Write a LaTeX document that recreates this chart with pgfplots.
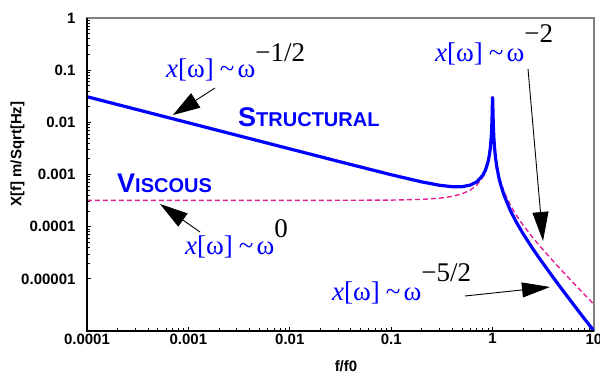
\documentclass[border=0pt]{standalone}
\usepackage{pgfplots}
\pgfplotsset{compat=1.18}
\usetikzlibrary{arrows.meta}
\usepackage{fontspec}
\setmainfont{Liberation Serif}
\newfontfamily\arial{Liberation Sans}
\definecolor{visc}{RGB}{228,30,150}
\newcommand{\ann}[2]{{\fontsize{27}{30}\selectfont{\color{blue}\textit{x}[ω]\hspace{6pt}\textasciitilde\hspace{3pt}ω}\raisebox{#1}{#2}}}
\begin{document}
\begin{tikzpicture}
\begin{axis}[
  name=ax,
  at={(87pt,44pt)}, anchor=south west,
  scale only axis, width=507pt, height=313pt,
  xmode=log, ymode=log,
  xmin=1e-4, xmax=10, ymin=1e-6, ymax=1,
  xtick={1e-4,1e-3,1e-2,1e-1,1,10},
  xticklabels={0.0001,0.001,0.01,0.1,1,10},
  ytick={1e-5,1e-4,1e-3,1e-2,1e-1,1},
  yticklabels={0.00001,0.0001,0.001,0.01,0.1,1},
  minor tick num=0,
  minor xtick={}, minor ytick={},
  xtick pos=left, ytick pos=left,
  tick align=inside,
  major tick length=4pt,
  tick style={black, line width=0.8pt},
  axis line style={gray, line width=1.2pt},
  ticklabel style={font=\arial\bfseries\fontsize{15}{17}\selectfont},
  yticklabel style={xshift=-8pt},
  xticklabel style={yshift=1pt},
  /pgf/number format/assume math mode=true,
]
\addplot[visc, line width=1.4pt, dash pattern=on 5pt off 3pt] coordinates {
(1e-4,3.2e-4) (1e-2,3.2003e-4) (0.03,3.2029e-4) (0.1,3.2323e-4) (0.2,3.3333e-4) (0.3,3.5165e-4) (0.4,3.8095e-4) (0.5,4.2667e-4) (0.6,4.9998e-4) (0.7,6.2739e-4) (0.8,8.8867e-4) (0.85,1.1526e-3) (0.9,1.6824e-3) (0.93,2.3630e-3) (0.95,3.2666e-3) (0.97,5.3431e-3) (0.98,7.8441e-3) (0.99,0.014397) (0.995,0.022713) (1,0.032) (1.005,0.022543) (1.01,0.014225) (1.02,7.6798e-3) (1.03,5.1810e-3) (1.05,3.1056e-3) (1.07,2.2025e-3) (1.1,1.5217e-3) (1.15,9.921e-4) (1.2,7.270e-4) (1.3,4.637e-4) (1.5,2.560e-4) (1.7,1.6931e-4) (2,1.0667e-4) (2.5,6.0952e-5) (3,4.0e-5) (4,2.1333e-5) (5,1.3333e-5) (6,9.1429e-6) (7,6.6667e-6) (8,5.0794e-6) (10,3.2323e-6)
};
\addplot[blue, line width=3.2pt] coordinates {
(1e-4,0.031) (1e-3,0.009803) (1e-2,0.0031003) (0.03,0.0017914) (0.1,9.902e-4) (0.2,7.2207e-4) (0.3,6.2195e-4) (0.4,5.835e-4) (0.5,5.8454e-4) (0.6,6.2533e-4) (0.7,7.2635e-4) (0.8,9.6236e-4) (0.85,1.2109e-3) (0.9,1.7175e-3) (0.93,2.3730e-3) (0.95,3.2451e-3) (0.97,5.2510e-3) (0.98,7.6675e-3) (0.99,0.013989) (0.995,0.022003) (1,0.031) (1.005,0.021838) (1.01,0.013740) (1.02,7.3751e-3) (1.03,4.9493e-3) (1.05,2.9374e-3) (1.07,2.0634e-3) (1.1,1.4059e-3) (1.15,8.963e-4) (1.2,6.430e-4) (1.3,3.940e-4) (1.5,2.0249e-4) (1.7,1.2580e-4) (2,7.3068e-5) (2.5,3.7345e-5) (3,2.2372e-5) (4,1.0333e-5) (5,5.7765e-6) (6,3.6159e-6) (7,2.4410e-6) (8,1.7397e-6) (10,1.0e-6)
};
\end{axis}
\draw[black, line width=1.5pt] (ax.north west) -- (ax.south west) -- (ax.south east);
% labels
\node[rotate=90, font=\arial\bfseries\fontsize{15}{17}\selectfont] at (17.5pt,221pt) {X[f] m/Sqrt[Hz]};
\node[anchor=base, inner sep=0pt, font=\arial\bfseries\fontsize{15}{17}\selectfont] at (346pt,3pt) {f/f0};
% text labels
\node[anchor=base west, inner sep=0pt, text=blue, font=\arial\bfseries] at (238pt,248pt) {\fontsize{27}{30}\selectfont S\fontsize{20}{24}\selectfont TRUCTURAL};
\node[anchor=base west, inner sep=0pt, text=blue, font=\arial\bfseries] at (117pt,182pt) {\fontsize{27}{30}\selectfont V\fontsize{20}{24}\selectfont ISCOUS};
% annotations
\node[anchor=base west, inner sep=0pt] at (166pt,297pt) {\ann{16pt}{−1/2}};
\node[anchor=base west, inner sep=0pt] at (185pt,120pt) {\ann{17pt}{0}};
\node[anchor=base west, inner sep=0pt] at (435pt,313pt) {\ann{19pt}{−2}};
\node[anchor=base west, inner sep=0pt] at (332pt,74pt) {\ann{19pt}{−5/2}};
% arrows
\draw[line width=0.9pt, -{Triangle[length=27pt,width=17pt]}] (215pt,287pt) -- (173pt,260pt);
\draw[line width=0.9pt, -{Triangle[length=28pt,width=16pt]}] (200pt,143pt) -- (160pt,171pt);
\draw[line width=0.9pt, -{Triangle[length=29pt,width=16pt]}] (528pt,306pt) -- (543pt,134pt);
\draw[line width=0.9pt, -{Triangle[length=28pt,width=15pt]}] (465pt,79pt) -- (550pt,88pt);
\pgfresetboundingbox
\useasboundingbox (0pt,0pt) rectangle (600pt,375pt);
\end{tikzpicture}
\end{document}
